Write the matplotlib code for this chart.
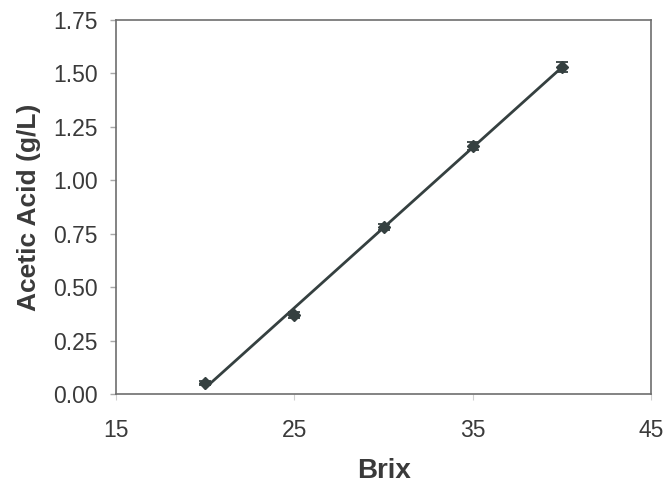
import numpy as np
import matplotlib
matplotlib.use("Agg")
import matplotlib.pyplot as plt

# Brix vs acetic acid
brix = [20, 25, 30, 35, 40]
acetic = [0.05, 0.37, 0.78, 1.16, 1.53]
err = [0.01, 0.015, 0.015, 0.02, 0.025]

xticks = [15, 25, 35, 45]
yticks = [0.00, 0.25, 0.50, 0.75, 1.00, 1.25, 1.50, 1.75]

plt.rcParams['font.family'] = ['Liberation Sans', 'DejaVu Sans']

fig = plt.figure(figsize=(6.68, 4.84), dpi=100)
ax = fig.add_axes([0.1737, 0.186, 0.801, 0.773])

# linear fit drawn across the data range
m, b = np.polyfit(brix, acetic, 1)
xf = np.array([brix[0], brix[-1]])
ax.plot(xf, m * xf + b, color='#354040', lw=2)

ax.errorbar(brix, acetic, yerr=err, fmt='D', ms=6.5, color='#354040',
            ecolor='#354040', elinewidth=1.2, capsize=4, capthick=1.3)

ax.set_xlim(15, 45)
ax.set_ylim(0, 1.75)
ax.set_xticks(xticks)
ax.set_yticks(yticks)
ax.set_yticklabels(['%.2f' % v for v in yticks])

ax.tick_params(axis='both', labelsize=16.5, colors='#d0d0d0', labelcolor='#3a3a3a')
ax.tick_params(axis='y', length=4.3, width=1, color='#a8a8a8', pad=9)
ax.tick_params(axis='x', length=4, width=0.8, pad=14)
for s in ax.spines.values():
    s.set_color('#6e6e6e')
    s.set_linewidth(1.2)

ax.set_xlabel('Brix', fontsize=20, fontweight='bold', color='#3a3a3a')
ax.set_ylabel('Acetic Acid (g/L)', fontsize=19, fontweight='bold', color='#3a3a3a')
ax.xaxis.set_label_coords(0.5, -0.17)
ax.yaxis.set_label_coords(-0.14, 0.5)

fig.savefig('out.png', dpi=100)
